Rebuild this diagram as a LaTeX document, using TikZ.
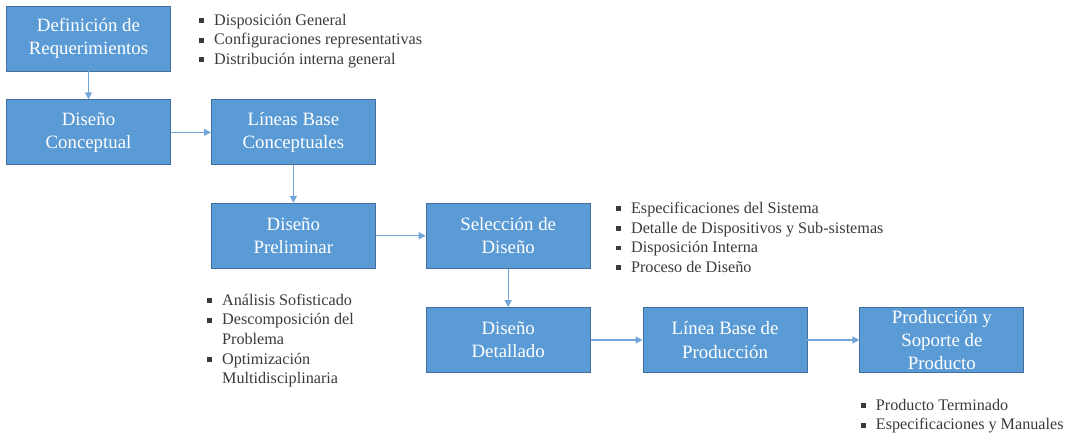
\documentclass[tikz,border=0pt]{standalone}
\usepackage{fontspec}
\setmainfont{Liberation Serif}
\usetikzlibrary{arrows.meta, positioning}

\definecolor{boxblue}{HTML}{5B9BD5}
\definecolor{boxedge}{HTML}{41719C}
\definecolor{linkblue}{HTML}{72A6DA}
\definecolor{listgray}{HTML}{3A3A3A}

\newcommand{\blt}{\makebox[0.375cm][l]{\raisebox{0.3ex}{\rule{3.5pt}{3.5pt}}}}

\begin{document}
\begin{tikzpicture}[
  block/.style = {draw=boxedge, line width=0.6pt, fill=boxblue, text=white, minimum height=1.625cm, minimum width=4.1cm, align=center, inner sep=0pt, font=\fontsize{13.4}{16.4}\selectfont},
  bullets/.style = {anchor=north west, align=left, inner sep=0pt, text=listgray, font=\fontsize{11.5}{14}\selectfont},
  arrow/.style = {linkblue, line width=0.9pt, -{Triangle[length=5pt, width=5pt]}}
]

  % Frame of the picture
  \useasboundingbox (0,0) rectangle (27,-11.075);

  % Requirements and conceptual stage
  \node[block] (req) at (2.2125,-0.9625) {Definición de\\Requerimientos};
  \node[block, below=0.7cm of req] (concept) {Diseño\\Conceptual};
  \node[block, right=1.0cm of concept] (baseconc) {Líneas Base\\Conceptuales};

  % Preliminary stage
  \node[block, below=0.94cm of baseconc] (prelim) {Diseño\\Preliminar};
  \node[block, right=1.25cm of prelim] (sel) {Selección de\\Diseño};

  % Detailed stage and production
  \node[block, below=0.96cm of sel] (detail) {Diseño\\Detallado};
  \node[block, right=1.3cm of detail] (baseprod) {Línea Base de\\Producción};
  \node[block, right=1.3cm of baseprod] (prod) {Producción y\\Soporte de\\Producto};

  % Connectors
  \draw[arrow] (req) -- (concept);
  \draw[arrow] (concept) -- (baseconc);
  \draw[arrow] (baseconc) -- (prelim);
  \draw[arrow] (prelim) -- (sel);
  \draw[arrow] (sel) -- (detail);
  \draw[arrow] (detail) -- (baseprod);
  \draw[arrow] (baseprod) -- (prod);

  % Bullet lists beside the blocks
  \node[bullets] (reqlist) at ([xshift=0.7cm, yshift=-0.2cm]req.north east)
    {\blt Disposición General\\
     \blt Configuraciones representativas\\
     \blt Distribución interna general};
  \node[bullets] (sellist) at ([xshift=0.63cm, yshift=0.03cm]sel.north east)
    {\blt Especificaciones del Sistema\\
     \blt Detalle de Dispositivos y Sub-sistemas\\
     \blt Disposición Interna\\
     \blt Proceso de Diseño};
  \node[bullets] (prelimlist) at ([xshift=-0.1cm, yshift=-0.62cm]prelim.south west)
    {\blt Análisis Sofisticado\\
     \blt Descomposición del\\
     \hspace*{0.375cm}Problema\\
     \blt Optimización\\
     \hspace*{0.375cm}Multidisciplinaria};
  \node[bullets] (prodlist) at ([xshift=0.03cm, yshift=-0.64cm]prod.south west)
    {\blt Producto Terminado\\
     \blt Especificaciones y Manuales};

\end{tikzpicture}
\end{document}
